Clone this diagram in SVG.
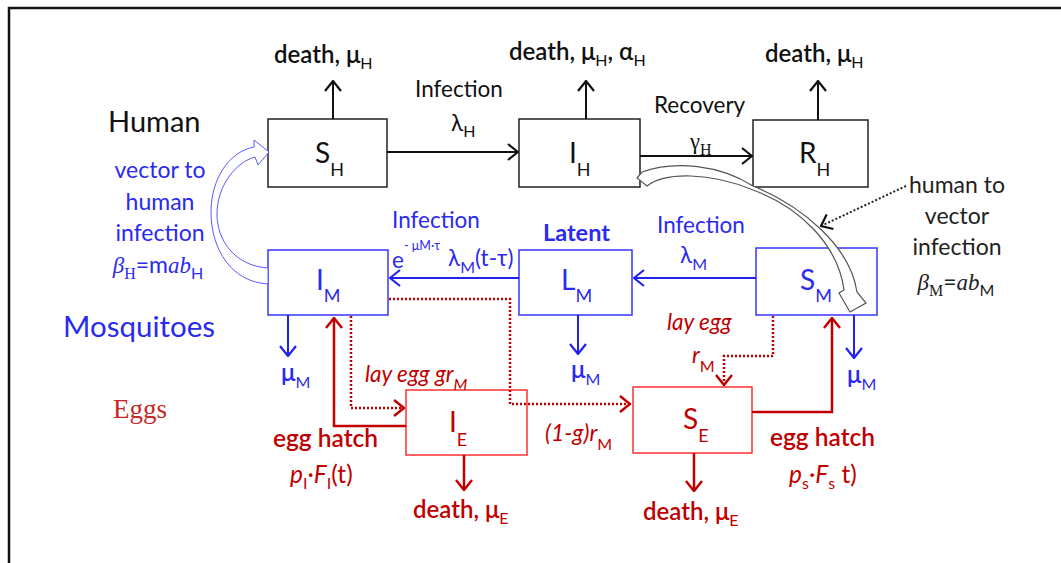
<svg xmlns="http://www.w3.org/2000/svg" width="1061" height="563" viewBox="0 0 1061 563">
<style>
text{font-family:Lato,"Liberation Sans",sans-serif}
.bk{fill:#111}
.bl{fill:#2a2af0}
.rd{fill:#c00000}
.b{font-weight:600}
.it{font-style:italic}
.sf{font-family:"Liberation Serif",serif}
.f20{font-size:22.5px}
.f23{font-size:24px}
.f27{font-size:28px}
.sub{font-size:16px;font-weight:normal}
.nsub{font-size:18px}
.boxK{fill:#fff;stroke:#222;stroke-width:1.5}
.boxB{fill:#fff;stroke:#3636ff;stroke-width:1.5}
.boxR{fill:#fff;stroke:#ff3030;stroke-width:1.5}
.lk{fill:none;stroke:#111;stroke-width:2}
.lb{fill:none;stroke:#2020f0;stroke-width:2}
.lr{fill:none;stroke:#c00000;stroke-width:2.5}
.dr{fill:none;stroke:#c00000;stroke-width:2.5;stroke-dasharray:2 2}
.dk{fill:none;stroke:#222;stroke-width:2;stroke-dasharray:2 2}
</style>
<defs>
<marker id="aK" viewBox="0 0 12 18" refX="11" refY="9" markerWidth="12" markerHeight="18" orient="auto" markerUnits="userSpaceOnUse"><path d="M1,1 L11,9 L1,17" fill="none" stroke="#111" stroke-width="2.2"/></marker>
<marker id="aB" viewBox="0 0 12 18" refX="11" refY="9" markerWidth="12" markerHeight="18" orient="auto" markerUnits="userSpaceOnUse"><path d="M1,1 L11,9 L1,17" fill="none" stroke="#2020f0" stroke-width="2.2"/></marker>
<marker id="aR" viewBox="0 0 12 18" refX="11" refY="9" markerWidth="12" markerHeight="18" orient="auto" markerUnits="userSpaceOnUse"><path d="M1,1 L11,9 L1,17" fill="none" stroke="#c00000" stroke-width="2.5"/></marker>
</defs>
<rect width="1061" height="563" fill="#fff"/>
<path d="M9,563 V8 H1061" fill="none" stroke="#111" stroke-width="2.5"/>

<g id="labels">
<text class="bk" x="108" y="132" font-size="29">Human</text>
<text class="bl" x="63" y="337" font-size="29.5">Mosquitoes</text>
<text class="sf" x="113" y="418" font-size="27" fill="#c62828">Eggs</text>
<g class="bl" font-size="23" text-anchor="middle">
<text x="160" y="178">vector to</text>
<text x="160" y="210">human</text>
<text x="160" y="241">infection</text>
<text x="158" y="273"><tspan class="sf it">β</tspan><tspan class="sf" font-size="16" dy="6">H</tspan><tspan dy="-6">=m</tspan><tspan class="sf it">ab</tspan><tspan font-size="16" dy="6">H</tspan></text>
</g>
<g font-size="23" text-anchor="middle" style="fill:#222">
<text x="957" y="193">human to</text>
<text x="957" y="224">vector</text>
<text x="957" y="255">infection</text>
<text x="956" y="290"><tspan class="sf it">β</tspan><tspan class="sf" font-size="16" dy="6">M</tspan><tspan dy="-6">=</tspan><tspan class="sf it">ab</tspan><tspan font-size="16" dy="6">M</tspan></text>
</g>
</g>

<g id="SH"><rect class="boxK" x="268" y="119" width="119" height="68"/><text class="bk f27" x="315" y="163">S<tspan class="nsub" dy="13">H</tspan></text></g>
<g id="IH"><rect class="boxK" x="519" y="119" width="121" height="68"/><text class="bk f27" x="569" y="163">I<tspan class="nsub" dy="13">H</tspan></text></g>
<g id="RH"><rect class="boxK" x="753" y="120" width="115" height="67"/><text class="bk f27" x="799" y="163">R<tspan class="nsub" dy="13">H</tspan></text></g>
<g id="IM"><rect class="boxB" x="268" y="250" width="120" height="65"/><text class="bl f27" x="316" y="290">I<tspan class="nsub" dy="12">M</tspan></text></g>
<g id="LM"><rect class="boxB" x="519" y="250" width="113" height="65"/><text class="bl f27" x="561" y="290">L<tspan class="nsub" dy="12">M</tspan></text><text class="bl" font-weight="bold" x="543" y="241" font-size="23.5">Latent</text></g>
<g id="SM"><rect class="boxB" x="756" y="248" width="121" height="67"/><text class="bl f27" x="800" y="290">S<tspan class="nsub" dy="12">M</tspan></text></g>
<g id="IE"><rect class="boxR" x="406" y="390" width="121" height="65"/><text class="rd f27" x="449" y="432">I<tspan class="nsub" dy="14">E</tspan></text></g>
<g id="SE"><rect class="boxR" x="633" y="387" width="119" height="66"/><text class="rd f27" x="683" y="429">S<tspan class="nsub" dy="13">E</tspan></text></g>

<g id="connectors">
<!-- deaths human -->
<line class="lk" x1="333" y1="119" x2="333" y2="81" marker-end="url(#aK)"/>
<line class="lk" x1="586" y1="119" x2="586" y2="81" marker-end="url(#aK)"/>
<line class="lk" x1="818" y1="120" x2="818" y2="81" marker-end="url(#aK)"/>
<text class="bk b f23" x="274" y="63">death, μ<tspan class="sub" dy="6">H</tspan></text>
<text class="bk b f23" x="509" y="60">death, μ<tspan class="sub" dy="6">H</tspan><tspan dy="-6">, α</tspan><tspan class="sub" dy="6">H</tspan></text>
<text class="bk b f23" x="765" y="62">death, μ<tspan class="sub" dy="6">H</tspan></text>
<!-- infection human -->
<line class="lk" x1="387" y1="152" x2="518" y2="152" marker-end="url(#aK)"/>
<text class="bk f20" x="415" y="97">Infection</text>
<text class="bk f20" x="451" y="131">λ<tspan class="sub" dy="6">H</tspan></text>
<line class="lk" x1="640" y1="156" x2="752" y2="156" marker-end="url(#aK)"/>
<text class="bk f20" x="654" y="113">Recovery</text>
<text class="bk f20" x="690" y="149"><tspan class="sf">γ</tspan><tspan class="sf" font-size="16" dy="6">H</tspan></text>
<!-- mosquito infection -->
<line class="lb" x1="519" y1="278" x2="390" y2="278" marker-end="url(#aB)"/>
<text class="bl f20" x="392" y="228">Infection</text>
<text class="bl f20" x="392" y="268">e</text>
<text class="bl" x="404" y="250" font-size="12.5">- μM·τ</text>
<text class="bl f20" x="448" y="266">λ<tspan class="sub" dy="7">M</tspan><tspan dy="-7">(t-τ)</tspan></text>
<line class="lb" x1="756" y1="278" x2="634" y2="278" marker-end="url(#aB)"/>
<text class="bl f20" x="657" y="233">Infection</text>
<text class="bl f20" x="680" y="263">λ<tspan class="sub" dy="7">M</tspan></text>
<!-- mosquito deaths -->
<line class="lb" x1="288" y1="315" x2="288" y2="356" marker-end="url(#aB)"/>
<line class="lb" x1="578" y1="315" x2="578" y2="354" marker-end="url(#aB)"/>
<line class="lb" x1="854" y1="315" x2="854" y2="358" marker-end="url(#aB)"/>
<text class="bl b f23" x="281" y="381">μ<tspan class="sub" dy="7">M</tspan></text>
<text class="bl b f23" x="571" y="378">μ<tspan class="sub" dy="7">M</tspan></text>
<text class="bl b f23" x="847" y="383">μ<tspan class="sub" dy="7">M</tspan></text>
<!-- egg hatch -->
<path class="lr" d="M406,426 H334 V318" marker-end="url(#aR)"/>
<path class="lr" d="M752,412 H832 V318" marker-end="url(#aR)"/>
<text class="rd b" font-size="24.5" x="273" y="447">egg hatch</text>
<text class="rd" font-size="24.5" x="290" y="483"><tspan class="it">p</tspan><tspan class="sub" dy="6">I</tspan><tspan dy="-6">·</tspan><tspan class="it">F</tspan><tspan class="sub" dy="6">I</tspan><tspan dy="-6">(t)</tspan></text>
<text class="rd b" font-size="24.5" x="770" y="446">egg hatch</text>
<text class="rd" font-size="24.5" x="789" y="483"><tspan class="it">p</tspan><tspan class="sub" dy="6">s</tspan><tspan dy="-6">·</tspan><tspan class="it">F</tspan><tspan class="sub" dy="6">s</tspan><tspan dy="-6"> t)</tspan></text>
<!-- lay eggs -->
<path class="dr" d="M351,316 V408 H404" marker-end="url(#aR)"/>
<path class="dr" d="M389,299 H510 V404 H630" marker-end="url(#aR)"/>
<path class="dr" d="M773,316 V356 H724 V385" marker-end="url(#aR)"/>
<text class="rd it f20" x="365" y="382">lay egg gr<tspan class="sub" dy="8">M</tspan></text>
<text class="rd it" font-size="23" x="545" y="441">(1-g)r<tspan class="sub" dy="9" font-style="normal">M</tspan></text>
<text class="rd it f20" x="667" y="330">lay egg</text>
<text class="rd it f20" x="692" y="363">r<tspan class="sub" dy="9" font-style="normal">M</tspan></text>
<!-- egg deaths -->
<line class="lr" x1="464" y1="455" x2="464" y2="490" marker-end="url(#aR)"/>
<line class="lr" x1="694" y1="453" x2="694" y2="491" marker-end="url(#aR)"/>
<text class="rd b f23" x="413" y="518">death, μ<tspan class="sub" dy="6">E</tspan></text>
<text class="rd b f23" x="643" y="520">death, μ<tspan class="sub" dy="6">E</tspan></text>
<!-- vector to human hollow arrow -->
<path d="M268,268 C235,266 216,240 217,212 C218,185 236,162 255,157 L258,165 L269,152 L254,140 L254,147 C228,152 211,180 211,212 C211,250 232,282 268,284 Z" fill="#fff" stroke="#5a5aff" stroke-width="1"/>
<!-- human to vector hollow arrow -->
<path d="M647,186 C665,172 710,172 753,190 C800,207 838,245 844,290 L839,293 L850,312 L866,303 L857,292 C850,245 800,205 753,186 C720,165 675,160 642,172 L637,178 Z" fill="#fff" stroke="#555" stroke-width="1.2"/>
<path class="dk" d="M906,186 L821,226" marker-end="url(#aK)"/>
</g>
</svg>
